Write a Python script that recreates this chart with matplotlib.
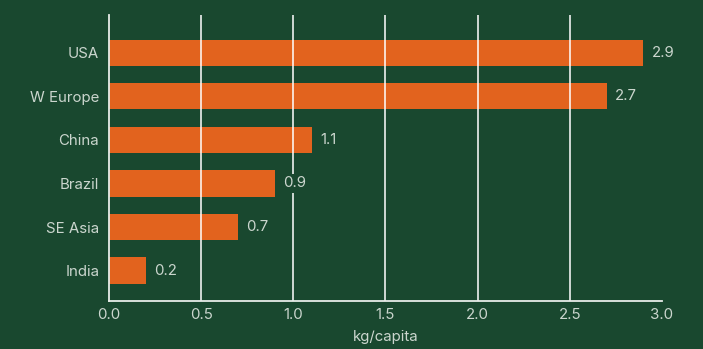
import matplotlib.pyplot as plt

countries = ['India', 'SE Asia', 'Brazil', 'China', 'W Europe', 'USA']
values = [0.2, 0.7, 0.9, 1.1, 2.7, 2.9]
xticks = [0.0, 0.5, 1.0, 1.5, 2.0, 2.5, 3.0]

bg = '#19482f'
bar_color = '#e2631e'
text_color = '#cbd6ce'

plt.rcParams['font.family'] = ['Inter', 'DejaVu Sans']

fig = plt.figure(figsize=(7.03, 3.49), dpi=100, facecolor=bg)
ax = fig.add_axes([0.155, 0.1375, 0.7865, 0.8195], facecolor=bg)

ypos = range(len(countries))
ax.barh(ypos, values, height=0.6, color=bar_color, zorder=2)

for t in xticks[1:-1]:
    ax.axvline(t, color='white', alpha=0.85, linewidth=1.3, zorder=3)

# value labels sit on a small background-coloured box so grid lines break behind them
for y, v in zip(ypos, values):
    ax.text(v + 0.045, y, f'{v}', va='center', ha='left',
            color=text_color, fontsize=10.8, zorder=5,
            bbox=dict(facecolor=bg, edgecolor='none', pad=2))

ax.set_xlim(0, 3.0)
ax.set_ylim(-0.7, 5.87)
ax.set_xticks(xticks)
ax.set_xticklabels([f'{t:.1f}' for t in xticks])
ax.set_yticks(list(ypos))
ax.set_yticklabels(countries)
ax.tick_params(length=0, colors=text_color, labelsize=10.8)
ax.tick_params(axis='x', pad=5)
ax.tick_params(axis='y', pad=7)
ax.set_xlabel('kg/capita', color=text_color, fontsize=10.8, labelpad=6)

for s in ['top', 'right']:
    ax.spines[s].set_visible(False)
for s in ['left', 'bottom']:
    ax.spines[s].set_color('#e8ece9')
    ax.spines[s].set_linewidth(1.3)
    ax.spines[s].set_zorder(4)

fig.savefig('out.png', dpi=100, facecolor=bg)
